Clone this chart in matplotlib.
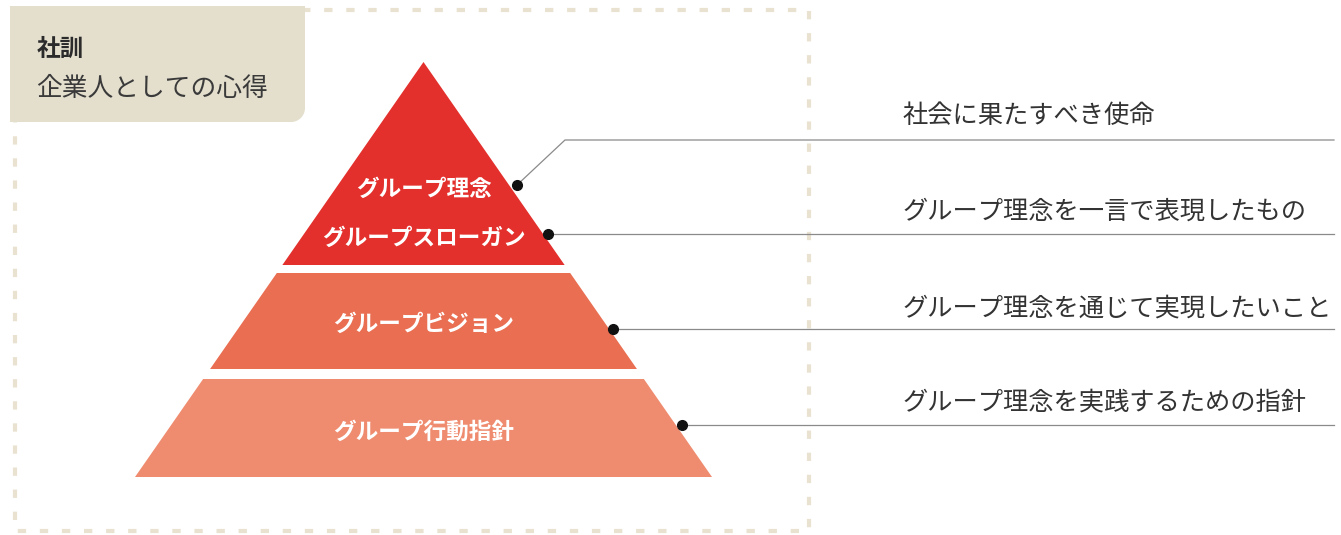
import matplotlib.pyplot as plt
from matplotlib.patches import Polygon, Rectangle
import numpy as np

plt.rcParams['font.family'] = ['Noto Sans CJK JP', 'DejaVu Sans']

# tiers of the pyramid, top to bottom
tier_labels = [['グループ理念', 'グループスローガン'], ['グループビジョン'], ['グループ行動指針']]
tier_colors = ['#e3302c', '#e96e52', '#ef8c70']
# descriptions on the right, one per labelled item
descriptions = ['社会に果たすべき使命', 'グループ理念を一言で表現したもの',
                'グループ理念を通じて実現したいこと', 'グループ理念を実践するための指針']
title = '社訓'
subtitle = '企業人としての心得'

W, H = 1341, 535
fig = plt.figure(figsize=(W / 100, H / 100), dpi=100)
ax = fig.add_axes([0, 0, 1, 1])
ax.set_xlim(0, W)
ax.set_ylim(H, 0)
ax.axis('off')

# dashed frame
ax.add_patch(Rectangle((15, 10), 794, 521, fill=False, ec='#e9e2d1', lw=3.0,
                       ls=(0, (2, 3.3)), capstyle='butt', zorder=1))

# beige heading box with rounded bottom-right corner
r = 14
x0, y0, x1, y1 = 10, 6, 305, 122
t = np.linspace(0, np.pi / 2, 20)
arc = np.column_stack([x1 - r + r * np.cos(t), y1 - r + r * np.sin(t)])
box = np.vstack([[x0, y0], [x1, y0], arc, [x0, y1]])
ax.add_patch(Polygon(box, closed=True, fc='#e4dfcd', ec='none', zorder=2))
ax.text(37, 49, title, fontsize=17, fontweight='bold', color='#2b2b2b', va='center', zorder=3)
ax.text(36, 89, subtitle, fontsize=18.5, color='#3a3a3a', va='center', zorder=3)

# pyramid geometry
apex_x, apex_y, base_y = 423.5, 62, 477
slope = 288.5 / (base_y - apex_y)
bands = [(apex_y, 265), (273, 369), (379, base_y)]


def half(y):
    return (y - apex_y) * slope


for (ya, yb), col, labels in zip(bands, tier_colors, tier_labels):
    pts = [[apex_x - half(ya), ya], [apex_x + half(ya), ya],
           [apex_x + half(yb), yb], [apex_x - half(yb), yb]]
    ax.add_patch(Polygon(pts, closed=True, fc=col, ec='none', zorder=3))

label_y = [189, 238, 324, 432]
flat = [s for group in tier_labels for s in group]
for s, y in zip(flat, label_y):
    ax.text(apex_x, y, s, fontsize=16.3, fontweight='bold', color='white',
            ha='center', va='center', zorder=4)

# leader lines and descriptions
dot_pts = [(517, 185), (548, 234), (613, 329), (682, 425)]
line_y = [140, 234, 329, 425]
text_y = [116, 212, 308, 403]
for (dx, dy), ly, ty, d in zip(dot_pts, line_y, text_y, descriptions):
    if ly != dy:
        ax.plot([dx, 565, 1334], [dy, ly, ly], color='#8a8a8a', lw=0.9, zorder=4)
    else:
        ax.plot([dx, 1334], [dy, ly], color='#8a8a8a', lw=0.9, zorder=4)
    ax.plot(dx, dy, 'o', color='#111111', ms=7, zorder=5)
    ax.text(903, ty, d, fontsize=18.2, color='#333333', va='center', zorder=4)

fig.savefig('out.png', dpi=100, facecolor='white')
